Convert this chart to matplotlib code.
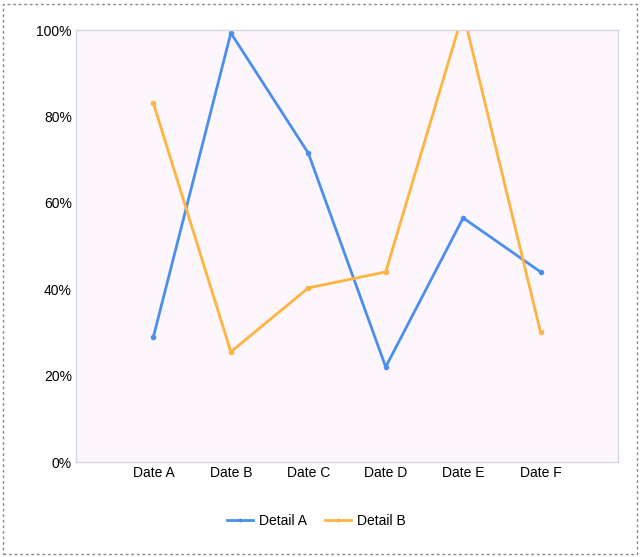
import matplotlib
matplotlib.use("Agg")
import matplotlib.pyplot as plt
from matplotlib.patches import Rectangle
from matplotlib.ticker import FuncFormatter

plt.rcParams['font.family'] = ['Liberation Sans', 'DejaVu Sans']

dates = ["Date A", "Date B", "Date C", "Date D", "Date E", "Date F"]
detail_a = [29, 99.3, 71.5, 22, 56.5, 44]
detail_b = [83, 25.5, 40.3, 44, 104, 30]

fig = plt.figure(figsize=(6.41, 5.57), dpi=100)
ax = fig.add_axes([76/641, 1-462/557, (618-76)/641, (462-30)/557])
ax.set_facecolor("#fdf6fd")

x = list(range(len(dates)))
ax.plot(x, detail_a, color="#4a8ff0", lw=2, marker="o", ms=3, label="Detail A")
ax.plot(x, detail_b, color="#ffb340", lw=2, marker="o", ms=3, label="Detail B")

ax.set_xlim(-1, 6)
ax.set_ylim(0, 100)
ax.set_xticks(x)
ax.set_xticklabels(dates)
ax.set_yticks([0, 20, 40, 60, 80, 100])
ax.yaxis.set_major_formatter(FuncFormatter(lambda v, p: f"{int(v)}%"))
ax.tick_params(length=0, labelsize=10, pad=3, labelcolor="black")
for s in ax.spines.values():
    s.set_color("#d8d4e0")
    s.set_linewidth(1)

leg = fig.legend(loc="center", bbox_to_anchor=(316/641, 1-521/557), ncol=2, frameon=False,
                 fontsize=10, handlelength=1.9, columnspacing=1.3, handletextpad=0.4, markerscale=0.6)

fig.patches.append(Rectangle((3/641, 3/557), 634/641, 550/557, transform=fig.transFigure,
                             fill=False, edgecolor="#888888", linestyle=(0, (2, 2)), lw=1))

fig.savefig("out.png", dpi=100)
